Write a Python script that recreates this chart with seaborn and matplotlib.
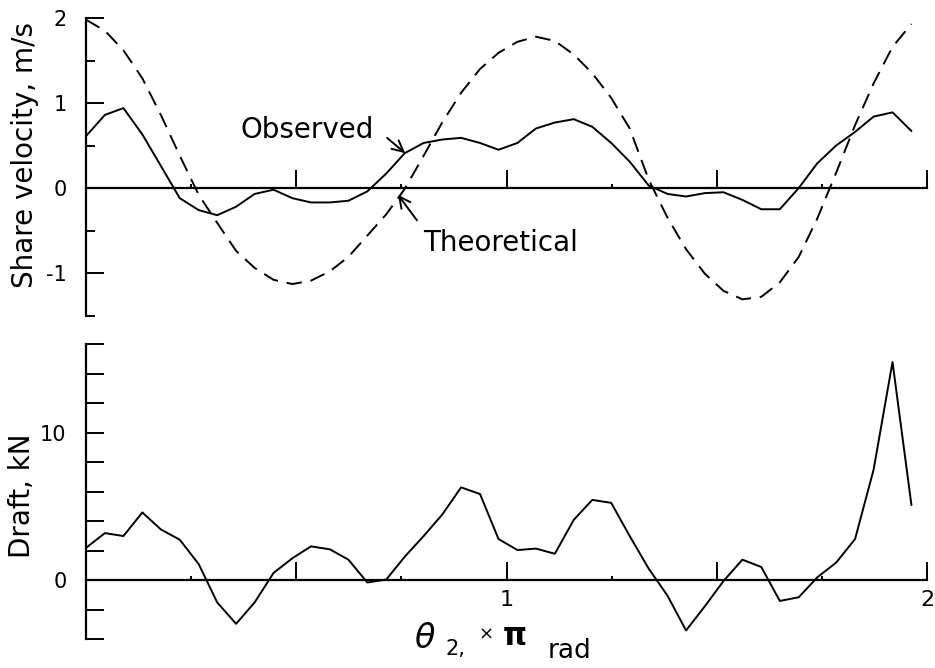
import numpy as np
import pandas as pd
import seaborn as sns
import matplotlib.pyplot as plt
from matplotlib.ticker import FixedLocator, FixedFormatter, NullFormatter

# ---- data ----
theta = [0.000, 0.045, 0.089, 0.134, 0.178, 0.223, 0.268, 0.312, 0.357, 0.401,
         0.446, 0.491, 0.535, 0.580, 0.624, 0.669, 0.714, 0.758, 0.803, 0.847,
         0.892, 0.937, 0.981, 1.026, 1.070, 1.115, 1.160, 1.204, 1.249, 1.293,
         1.338, 1.383, 1.427, 1.472, 1.516, 1.561, 1.606, 1.650, 1.695, 1.739,
         1.784, 1.829, 1.873, 1.918, 1.963]

velocity_observed = [0.61, 0.86, 0.94, 0.63, 0.26, -0.12, -0.26, -0.32, -0.22, -0.07,
                     -0.02, -0.12, -0.17, -0.17, -0.15, -0.04, 0.17, 0.41, 0.53, 0.57,
                     0.59, 0.53, 0.45, 0.53, 0.70, 0.77, 0.81, 0.72, 0.53, 0.31,
                     0.03, -0.07, -0.10, -0.06, -0.05, -0.14, -0.25, -0.25, 0.00, 0.29,
                     0.50, 0.66, 0.84, 0.89, 0.67]

velocity_theoretical = [1.98, 1.85, 1.62, 1.29, 0.86, 0.38, -0.08, -0.41, -0.74, -0.94,
                        -1.08, -1.13, -1.09, -0.98, -0.81, -0.56, -0.31, -0.01, 0.38, 0.77,
                        1.12, 1.40, 1.59, 1.72, 1.78, 1.73, 1.57, 1.35, 1.06, 0.70,
                        0.10, -0.35, -0.72, -1.01, -1.21, -1.31, -1.28, -1.11, -0.81, -0.36,
                        0.18, 0.74, 1.23, 1.66, 1.93]

draft = [2.2, 3.2, 3.0, 4.6, 3.45, 2.75, 1.1, -1.5, -2.95, -1.5,
         0.5, 1.5, 2.3, 2.1, 1.4, -0.15, 0.05, 1.6, 3.0, 4.45,
         6.3, 5.85, 2.8, 2.05, 2.15, 1.8, 4.1, 5.45, 5.25, 3.0,
         0.8, -1.05, -3.4, -1.75, -0.05, 1.4, 0.9, -1.4, -1.15, 0.2,
         1.2, 2.8, 7.5, 14.8, 5.1]

x_major = [0.5, 1.0, 1.5, 2.0]
x_minor = [0.25, 0.75, 1.25, 1.75]
x_labels = ['', '1', '', '2']
v_major = [-1, 0, 1, 2]
v_minor = [-1.5, -0.5, 0.5, 1.5]
v_labels = ['-1', '0', '1', '2']
d_ticks = [-4, -2, 0, 2, 4, 6, 8, 10, 12, 14, 16]
d_labels = ['', '', '0', '', '', '', '', '10', '', '', '']

df = pd.DataFrame({'theta': theta,
                   'observed': velocity_observed,
                   'theoretical': velocity_theoretical,
                   'draft': draft})

# ---- style ----
sns.set_theme(style='white')
plt.rcParams['font.family'] = ['DejaVu Sans']
plt.rcParams['mathtext.fontset'] = 'dejavusans'
for k in ['text.color', 'axes.labelcolor', 'xtick.color', 'ytick.color', 'axes.edgecolor']:
    plt.rcParams[k] = 'black'

W, H = 935, 668
fig = plt.figure(figsize=(W / 100, H / 100), dpi=100)
fig.patch.set_facecolor('white')

ax1 = fig.add_axes([86 / W, 1 - 315.5 / H, 841 / W, (315.5 - 18) / H])
ax2 = fig.add_axes([86 / W, 1 - 639.3 / H, 841 / W, (639.3 - 344.3) / H])

sns.lineplot(data=df, x='theta', y='theoretical', ax=ax1, color='black',
             lw=1.4, linestyle=(0, (8, 4.5)))
sns.lineplot(data=df, x='theta', y='observed', ax=ax1, color='black', lw=1.4)
sns.lineplot(data=df, x='theta', y='draft', ax=ax2, color='black', lw=1.4)

for ax in (ax1, ax2):
    ax.set_xlim(0, 2)
    ax.set_facecolor('white')
    ax.spines['top'].set_visible(False)
    ax.spines['right'].set_visible(False)
    ax.spines['bottom'].set_position(('data', 0))
    ax.spines['left'].set_linewidth(1.6)
    ax.spines['bottom'].set_linewidth(1.6)
    ax.xaxis.set_major_locator(FixedLocator(x_major))
    ax.xaxis.set_minor_locator(FixedLocator(x_minor))
    ax.tick_params(axis='x', which='both', bottom=True, top=False)
    ax.tick_params(axis='y', which='both', left=True, right=False)
    ax.tick_params(axis='x', which='major', direction='in', length=13, width=1.4,
                   pad=7, labelsize=16)
    ax.tick_params(axis='x', which='minor', direction='in', length=3, width=1.4)
    ax.tick_params(axis='y', which='major', direction='in', length=13, width=1.4,
                   pad=14, labelsize=15)
    ax.tick_params(axis='y', which='minor', direction='in', length=6.5, width=1.4)
    ax.set_xlabel('')
    ax.set_ylabel('')

ax1.xaxis.set_major_formatter(NullFormatter())
ax2.xaxis.set_major_formatter(FixedFormatter(x_labels))

ax1.set_ylim(-1.5, 2)
ax1.yaxis.set_major_locator(FixedLocator(v_major))
ax1.yaxis.set_minor_locator(FixedLocator(v_minor))
ax1.yaxis.set_major_formatter(FixedFormatter(v_labels))

ax2.set_ylim(-4, 16)
ax2.yaxis.set_major_locator(FixedLocator(d_ticks))
ax2.yaxis.set_major_formatter(FixedFormatter(d_labels))

# annotations
arrow = dict(arrowstyle='->', color='black', lw=1.4, mutation_scale=20,
             shrinkA=0, shrinkB=0)
ax1.text(0.527, 0.68, 'Observed', ha='center', va='center', fontsize=20)
ax1.annotate('', xy=(0.759, 0.41), xytext=(0.716, 0.59), arrowprops=arrow)
ax1.text(0.985, -0.65, 'Theoretical', ha='center', va='center', fontsize=20)
ax1.annotate('', xy=(0.742, -0.08), xytext=(0.787, -0.38), arrowprops=arrow)

# axis titles
fig.text(25 / W, 1 - 155 / H, 'Share velocity, m/s', rotation=90,
         ha='center', va='center', fontsize=20)
fig.text(22 / W, 1 - 496 / H, 'Draft, kN', rotation=90,
         ha='center', va='center', fontsize=20)

# x label pieces
fig.text(425 / W, 1 - 648 / H, r'$\theta$', ha='center', va='baseline', fontsize=24)
fig.text(455 / W, 1 - 655 / H, '2,', ha='center', va='baseline', fontsize=15)
fig.text(486 / W, 1 - 635 / H, '\u00d7', ha='center', va='center', fontsize=13)
fig.text(515 / W, 1 - 645 / H, '\u03c0', ha='center', va='baseline', fontsize=22,
         fontweight='bold')
fig.text(570 / W, 1 - 658 / H, 'rad', ha='center', va='baseline', fontsize=19)

fig.savefig('out.png', dpi=100, facecolor='white')
